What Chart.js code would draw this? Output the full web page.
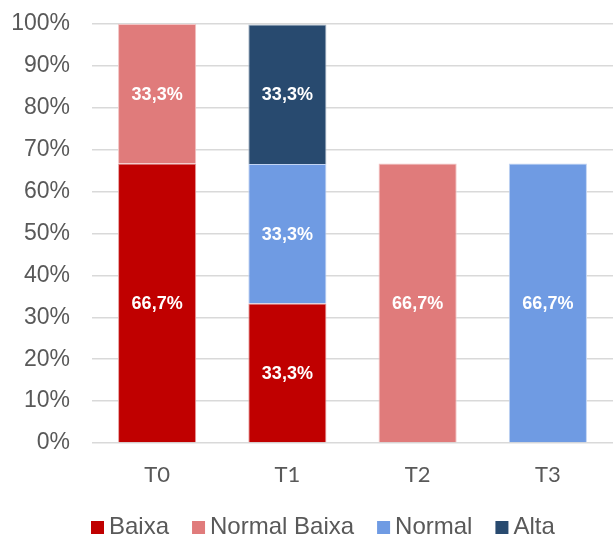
<!DOCTYPE html>
<html>
<head>
<meta charset="utf-8">
<script src="https://cdn.jsdelivr.net/npm/chart.js@4/dist/chart.umd.min.js"></script>
<style>
  html, body { margin: 0; padding: 0; background: #ffffff; }
  #wrap { width: 613px; height: 538px; }
</style>
</head>
<body>
<div id="wrap"><canvas id="chart" width="613" height="538"></canvas></div>
<script>
// Categories and stacked series (percent of each group)
const categories = ['T0', 'T1', 'T2', 'T3'];
const baixa       = [66.7, 33.3, null, null];
const normalBaixa = [33.3, null, 66.7, null];
const normal      = [null, 33.3, null, 66.7];
const alta        = [null, 33.3, null, null];
const yTicks = [0, 10, 20, 30, 40, 50, 60, 70, 80, 90, 100];

const fmt = v => v.toFixed(1).replace('.', ',') + '%';
const SANS = '"Liberation Sans", Arial, sans-serif';

// Writes each segment's value in the middle of its bar
const valueLabels = {
  id: 'valueLabels',
  afterDatasetsDraw(chart) {
    const ctx = chart.ctx;
    ctx.save();
    ctx.fillStyle = '#ffffff';
    ctx.font = 'bold 18px ' + SANS;
    ctx.textAlign = 'center';
    ctx.textBaseline = 'middle';
    chart.data.datasets.forEach((ds, i) => {
      const meta = chart.getDatasetMeta(i);
      meta.data.forEach((bar, j) => {
        const v = ds.data[j];
        if (v == null) return;
        ctx.fillText(fmt(v), bar.x, (bar.y + bar.base) / 2 + 1);
      });
    });
    ctx.restore();
  }
};

// Legend row under the axis: square swatch followed by the series name
const bottomLegend = {
  id: 'bottomLegend',
  afterDraw(chart) {
    const ctx = chart.ctx;
    ctx.save();
    ctx.font = '24px ' + SANS;
    ctx.textBaseline = 'alphabetic';
    ctx.textAlign = 'left';
    const box = 13, gapText = 5, gapItem = 23;
    const yBox = 521, yText = 534;
    let x = 91;
    chart.data.datasets.forEach(ds => {
      ctx.fillStyle = ds.backgroundColor;
      ctx.fillRect(x, yBox, box, box);
      x += box + gapText;
      ctx.fillStyle = '#595959';
      ctx.fillText(ds.label, x, yText);
      x += ctx.measureText(ds.label).width + gapItem;
    });
    ctx.restore();
  }
};

new Chart(document.getElementById('chart'), {
  type: 'bar',
  data: {
    labels: categories,
    datasets: [
      { label: 'Baixa', data: baixa, backgroundColor: '#C00000', borderColor: '#E6A0A0', borderWidth: 1 },
      { label: 'Normal Baixa', data: normalBaixa, backgroundColor: '#E07B7B', borderColor: '#F2C4C4', borderWidth: 1 },
      { label: 'Normal', data: normal, backgroundColor: '#6F9BE3', borderColor: '#C2D4F3', borderWidth: 1 },
      { label: 'Alta', data: alta, backgroundColor: '#284A6F', borderColor: '#A9B7C7', borderWidth: 1 }
    ]
  },
  options: {
    responsive: false,
    animation: false,
    devicePixelRatio: 1,
    layout: { padding: { top: 24, right: 0, left: 0, bottom: 45 } },
    datasets: { bar: { barPercentage: 0.6, categoryPercentage: 1.0 } },
    scales: {
      x: {
        stacked: true,
        grid: { display: false, drawTicks: false },
        border: { display: false },
        ticks: {
          color: '#595959',
          padding: 19,
          font: { family: 'Lato, "Liberation Sans", sans-serif', size: 22 }
        },
        afterFit(scale) { scale.height = 50; scale.paddingLeft = 0; scale.paddingRight = 0; }
      },
      y: {
        stacked: true,
        min: 0,
        max: 100,
        afterBuildTicks(scale) { scale.ticks = yTicks.map(v => ({ value: v })); },
        grid: { color: '#D9D9D9', lineWidth: 1.5, drawTicks: false },
        border: { display: false },
        ticks: {
          color: '#595959',
          padding: 22,
          font: { family: SANS, size: 23 },
          callback: v => v + '%'
        },
        afterFit(scale) { scale.width = 92; scale.paddingTop = 0; scale.paddingBottom = 0; }
      }
    },
    plugins: {
      legend: { display: false },
      tooltip: { enabled: false }
    }
  },
  plugins: [valueLabels, bottomLegend]
});
</script>
</body>
</html>
